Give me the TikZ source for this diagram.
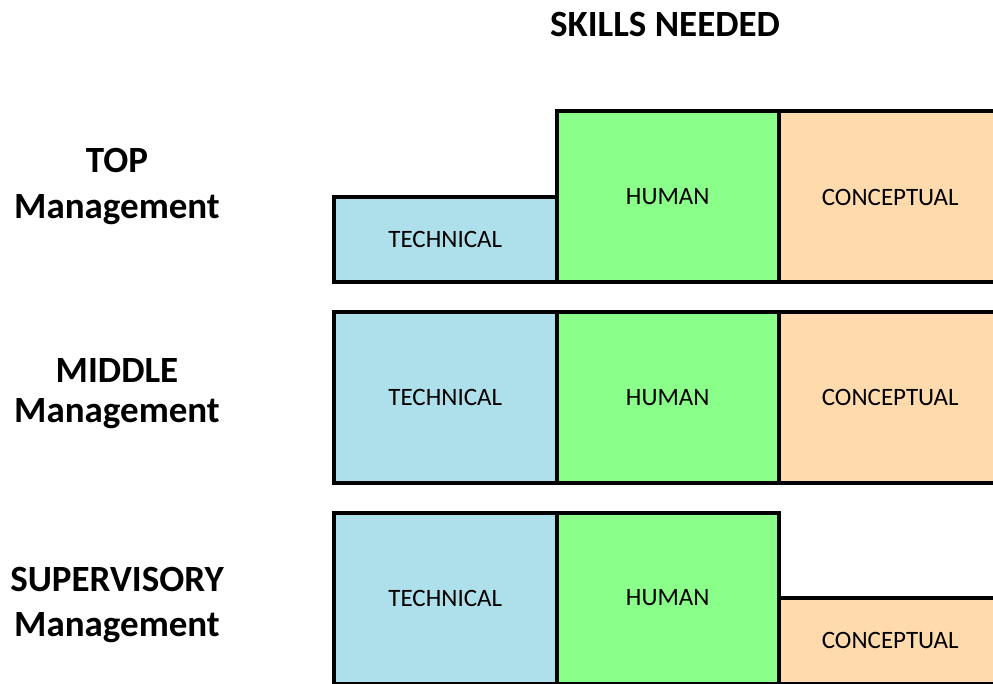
\documentclass[tikz,border=0pt]{standalone}
\usepackage{fontspec}
\setmainfont{Carlito}
\usetikzlibrary{positioning}
\definecolor{techblue}{RGB}{174,224,236}
\definecolor{humangreen}{RGB}{138,255,138}
\definecolor{conceptpeach}{RGB}{254,218,172}

\begin{document}
\begin{tikzpicture}[
  x=1pt, y=-1pt,
  node distance=0pt,
  skill/.style={rectangle,draw,line width=4pt,outer sep=0pt,inner sep=0pt,minimum width=222.5pt,minimum height=171pt,font=\fontsize{25}{30}\selectfont},
  tech/.style={skill,fill=techblue},
  human/.style={skill,fill=humangreen},
  concept/.style={skill,fill=conceptpeach},
  low/.style={minimum height=85.5pt},
  level/.style={align=center,font=\fontsize{37}{44}\selectfont\bfseries}
]
\path[use as bounding box, clip] (0,0) rectangle (993,684);

% Middle row
\node[tech] (midtech) at (445.25,397.5) {TECHNICAL};
\node[human, right=of midtech] (midhum) {HUMAN};
\node[concept, right=of midhum] (midcon) {CONCEPTUAL};

% Top row
\node[human, above=29.5pt of midhum] (tophum) {HUMAN};
\node[concept, right=of tophum] (topcon) {CONCEPTUAL};
\node[tech, low, anchor=south east] (toptech) at (tophum.south west) {TECHNICAL};

% Supervisory row
\node[tech, below=29.5pt of midtech] (bottech) {TECHNICAL};
\node[human, right=of bottech] (bothum) {HUMAN};
\node[concept, low, anchor=south west] (botcon) at (bothum.south east) {CONCEPTUAL};

% Labels
\node[level] (title) at (665,24) {SKILLS NEEDED};
\node[level] (toplbl) at (117,187) {TOP\\[2pt]Management};
\node[level] (midlbl) at (117,394) {MIDDLE\\[-4pt]Management};
\node[level] (botlbl) at (117,605) {SUPERVISORY\\[1pt]Management};
\end{tikzpicture}
\end{document}
